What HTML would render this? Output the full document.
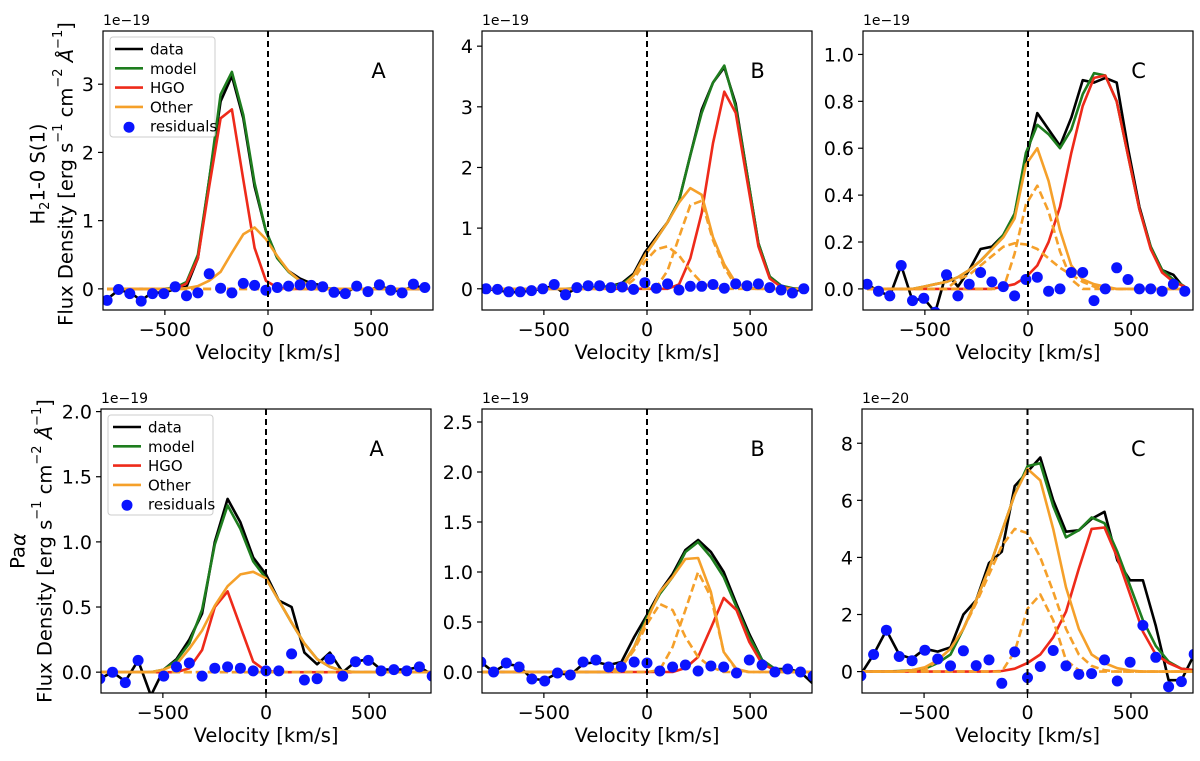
<!DOCTYPE html>
<html><head><meta charset="utf-8"><style>
html,body{margin:0;padding:0;background:#fff;}
svg{display:block;font-family:"DejaVu Sans","Liberation Sans",sans-serif;}
</style></head><body>
<svg id="fig" width="1200" height="761" viewBox="0 0 1200 761" xmlns="http://www.w3.org/2000/svg">
<rect width="1200" height="761" fill="#fff"/>
<g>
<text transform="translate(38,174) rotate(-90)" text-anchor="middle" dominant-baseline="central" font-size="19.5">H<tspan baseline-shift="sub" font-size="13">2</tspan>1-0 S(1)</text>
<text transform="translate(66,174) rotate(-90)" text-anchor="middle" dominant-baseline="central" font-size="19.5">Flux Density [erg s<tspan baseline-shift="super" font-size="13">−1</tspan> cm<tspan baseline-shift="super" font-size="13">−2</tspan> <tspan font-style="italic">Å</tspan><tspan baseline-shift="super" font-size="13">−1</tspan>]</text>
</g>
<g>
<text transform="translate(18,551) rotate(-90)" text-anchor="middle" dominant-baseline="central" font-size="19.5">Pa<tspan font-style="italic">α</tspan></text>
<text transform="translate(45,551) rotate(-90)" text-anchor="middle" dominant-baseline="central" font-size="19.5">Flux Density [erg s<tspan baseline-shift="super" font-size="13">−1</tspan> cm<tspan baseline-shift="super" font-size="13">−2</tspan> <tspan font-style="italic">Å</tspan><tspan baseline-shift="super" font-size="13">−1</tspan>]</text>
</g>
</svg>
<script>
// ---- data ----
const vTop = [-780,-725,-670,-615,-560,-505,-450,-395,-340,-285,-230,-175,-120,-65,-10,45,100,155,210,265,320,375,430,485,540,595,650,705,760];
const vBot = [-806,-744,-682,-620,-558,-496,-434,-372,-310,-248,-186,-124,-62,0,62,124,186,248,310,372,434,496,558,620,682,744,806];
const xTicks = [-500,0,500];
const xTickLabels = ["−500","0","500"];

const dA1 = [-0.15,-0.02,-0.05,-0.17,-0.05,-0.06,0.0,0.03,0.45,1.6,2.75,3.12,2.5,1.5,0.85,0.45,0.26,0.15,0.08,0.05,-0.05,-0.06,0.03,-0.03,0.04,-0.01,-0.04,0.05,0.01];
const mA1 = [0,0,0,0,0,0,0.02,0.1,0.5,1.6,2.85,3.18,2.55,1.55,0.85,0.45,0.25,0.12,0.05,0.02,0,0,0,0,0,0,0,0,0];
const hA1 = [0,0,0,0,0,0,0,0.08,0.45,1.5,2.5,2.63,1.6,0.6,0.12,0.02,0,0,0,0,0,0,0,0,0,0,0,0,0];
const oA1 = [0,0,0,0,0,0,0,0.01,0.04,0.12,0.25,0.53,0.8,0.9,0.73,0.48,0.26,0.12,0.04,0.01,0,0,0,0,0,0,0,0,0];
const c1A1 = [0,0,0,0,0,0,0,0,0,0,0,0,0,0,0,0,0,0,0,0,0,0,0,0,0,0,0,0,0];
const c2A1 = [0,0,0,0,0,0,0,0,0,0,0,0,0,0,0,0,0,0,0,0,0,0,0,0,0,0,0,0,0];
const rA1 = [-0.17,-0.01,-0.07,-0.18,-0.07,-0.07,0.03,-0.1,-0.06,0.22,0.01,-0.06,0.08,0.05,-0.02,0.02,0.04,0.06,0.05,0.03,-0.05,-0.07,0.04,-0.04,0.06,-0.02,-0.06,0.07,0.02];

const dB1 = [-0.01,-0.02,-0.06,-0.05,-0.03,0.0,0.05,-0.1,0.02,0.02,0.03,0.04,0.1,0.25,0.6,0.85,1.1,1.45,2.2,2.95,3.4,3.65,3.05,1.9,0.75,0.2,0.05,-0.05,0.0];
const mB1 = [0,0,0,0,0,0,0,0,0.01,0.02,0.03,0.04,0.08,0.22,0.55,0.82,1.1,1.45,2.2,2.9,3.4,3.68,3.0,1.9,0.75,0.2,0.05,0.01,0];
const hB1 = [0,0,0,0,0,0,0,0,0,0,0,0,0,0,0,0,0,0.07,0.5,1.25,2.4,3.25,2.9,1.8,0.7,0.17,0.03,0,0];
const oB1 = [0,0,0,0,0,0,0,0,0,0,0,0.01,0.04,0.22,0.55,0.82,1.1,1.42,1.66,1.55,0.85,0.4,0.1,0.02,0,0,0,0,0];
const c1B1 = [0,0,0,0,0,0,0,0,0,0,0,0,0,0.15,0.45,0.65,0.7,0.55,0.3,0.1,0.02,0,0,0,0,0,0,0,0];
const c2B1 = [0,0,0,0,0,0,0,0,0,0,0,0,0,0,0,0.02,0.3,0.85,1.38,1.45,0.8,0.35,0.05,0,0,0,0,0,0];
const rB1 = [0,-0.01,-0.05,-0.05,-0.03,0.0,0.07,-0.1,0.02,0.05,0.05,0.02,0.03,-0.01,0.1,0.01,0.08,-0.02,0.04,0.04,0.07,0.01,0.08,0.05,0.08,0.02,-0.02,-0.07,0];

const dC1 = [0.02,-0.01,-0.03,0.1,-0.05,-0.04,-0.1,0.07,0.01,0.08,0.17,0.18,0.23,0.32,0.55,0.75,0.68,0.61,0.73,0.89,0.88,0.9,0.88,0.6,0.35,0.18,0.08,0.06,0.0];
const mC1 = [0,0,0,0,0,0.01,0.02,0.03,0.05,0.08,0.12,0.17,0.23,0.32,0.58,0.7,0.66,0.6,0.68,0.83,0.92,0.91,0.8,0.57,0.34,0.18,0.08,0.04,0.01];
const hC1 = [0,0,0,0,0,0,0,0,0,0,0,0,0.01,0.02,0.05,0.1,0.2,0.35,0.58,0.78,0.9,0.91,0.8,0.57,0.34,0.17,0.07,0.03,0.01];
const oC1 = [0,0,0,0,0,0.01,0.02,0.03,0.05,0.08,0.12,0.17,0.22,0.3,0.53,0.6,0.46,0.25,0.1,0.04,0.02,0.01,0,0,0,0,0,0,0];
const c1C1 = [0,0,0,0,0,0,0,0,0.04,0.06,0.1,0.14,0.18,0.195,0.19,0.17,0.13,0.09,0.06,0.03,0.01,0,0,0,0,0,0,0,0];
const c2C1 = [0,0,0,0,0,0,0,0,0,0,0,0,0,0.15,0.36,0.44,0.33,0.16,0.04,0,0,0,0,0,0,0,0,0,0];
const rC1 = [0.02,-0.01,-0.03,0.1,-0.05,-0.04,-0.1,0.06,-0.03,0.02,0.07,0.03,0.01,-0.03,0.04,0.05,-0.01,0.0,0.07,0.07,-0.05,0.0,0.09,0.04,0.0,0.0,-0.01,0.02,-0.01];

const dA2 = [-0.05,0.0,-0.07,0.09,-0.18,0.02,0.1,0.25,0.45,1.0,1.33,1.15,0.88,0.75,0.55,0.5,0.15,0.06,0.15,0.0,0.08,0.1,0.02,0.02,0.02,0.04,-0.02];
const mA2 = [0,0,0,0,0,0.02,0.09,0.22,0.48,0.98,1.28,1.1,0.85,0.72,0.55,0.38,0.22,0.1,0.04,0.01,0,0,0,0,0,0,0];
const hA2 = [0,0,0,0,0,0,0,0.03,0.17,0.5,0.62,0.35,0.08,0.01,0,0,0,0,0,0,0,0,0,0,0,0,0];
const oA2 = [0,0,0,0,0,0.02,0.06,0.18,0.32,0.51,0.66,0.75,0.77,0.72,0.55,0.38,0.22,0.1,0.04,0.01,0,0,0,0,0,0,0];
const c1A2 = [0,0,0,0,0,0,0,0,0,0,0,0,0,0,0,0,0,0,0,0,0,0,0,0,0,0,0];
const c2A2 = [0,0,0,0,0,0,0,0,0,0,0,0,0,0,0,0,0,0,0,0,0,0,0,0,0,0,0];
const rA2 = [-0.05,0.0,-0.08,0.09,-0.2,-0.03,0.04,0.07,-0.03,0.03,0.04,0.03,0.01,0.01,0.01,0.14,-0.06,-0.05,0.1,-0.03,0.08,0.09,0.01,0.02,0.01,0.04,-0.03];

const dB2 = [0.1,0.0,0.08,0.06,-0.07,-0.08,-0.01,-0.03,0.08,0.1,0.07,0.1,0.35,0.57,0.8,0.98,1.22,1.32,1.2,1.0,0.68,0.38,0.12,0.03,0.03,0.0,-0.12];
const mB2 = [0,0,0,0,0,0,0,0,0,0,0,0.05,0.25,0.55,0.78,0.95,1.2,1.3,1.15,0.95,0.65,0.35,0.12,0.03,0.01,0,0];
const hB2 = [0,0,0,0,0,0,0,0,0,0,0,0,0,0,0,0,0.04,0.15,0.44,0.74,0.62,0.3,0.08,0.02,0,0,0];
const oB2 = [0,0,0,0,0,0,0,0,0,0,0,0.05,0.25,0.52,0.8,0.95,1.13,1.14,0.8,0.2,0.03,0,0,0,0,0,0];
const c1B2 = [0,0,0,0,0,0,0,0,0,0,0,0.05,0.22,0.48,0.68,0.62,0.35,0.15,0.05,0,0,0,0,0,0,0,0];
const c2B2 = [0,0,0,0,0,0,0,0,0,0,0,0,0,0,0.02,0.25,0.62,1.0,0.75,0.2,0.02,0,0,0,0,0,0];
const rB2 = [0.1,0.0,0.09,0.05,-0.07,-0.09,-0.01,-0.03,0.1,0.12,0.05,0.05,0.1,0.09,0.01,0.05,0.07,0.01,0.06,0.05,-0.01,0.12,0.07,0.0,0.03,0.0,-0.04];

const dC2 = [-0.1,0.6,1.45,0.6,0.45,0.8,0.7,0.85,2.0,2.5,3.8,4.2,6.5,7.0,7.5,6.0,4.9,4.95,5.35,5.6,3.9,3.2,3.2,1.6,-0.3,-0.3,0.6];
const mC2 = [0,0,0,0.02,0.05,0.1,0.3,0.6,1.5,2.5,3.6,4.9,6.2,7.2,7.3,5.8,4.7,4.95,5.4,5.2,4.2,3.0,1.8,0.9,0.35,0.1,0.05];
const hC2 = [0,0,0,0,0,0,0,0,0,0,0,0.02,0.1,0.3,0.6,1.2,2.1,3.6,5.0,5.05,4.0,2.7,1.4,0.6,0.3,0.1,0.05];
const oC2 = [0,0,0,0,0.05,0.15,0.4,0.8,1.5,2.5,3.6,4.9,6.2,7.1,6.7,5.0,2.95,1.5,0.6,0.3,0.12,0.04,0,0,0,0,0];
const c1C2 = [0,0,0,0,0,0.05,0.4,0.8,1.5,2.4,3.4,4.4,5.0,4.85,4.0,2.8,1.5,0.6,0.2,0.05,0,0,0,0,0,0,0];
const c2C2 = [0,0,0,0,0,0,0,0,0,0,0,0,0.7,2.2,2.7,1.8,0.4,0.05,0,0,0,0,0,0,0,0,0];
const rC2 = [-0.15,0.6,1.45,0.53,0.38,0.75,0.44,0.2,0.73,0.21,0.41,-0.41,0.69,-0.21,0.18,0.74,0.2,-0.1,-0.07,0.41,-0.33,0.33,1.62,0.5,-0.53,-0.35,0.61];

const yTicksA1 = [0,1,2,3];           const yLabA1 = ["0","1","2","3"];
const yTicksB1 = [0,1,2,3,4];         const yLabB1 = ["0","1","2","3","4"];
const yTicksC1 = [0,0.2,0.4,0.6,0.8,1.0]; const yLabC1 = ["0.0","0.2","0.4","0.6","0.8","1.0"];
const yTicksA2 = [0,0.5,1.0,1.5,2.0]; const yLabA2 = ["0.0","0.5","1.0","1.5","2.0"];
const yTicksB2 = [0,0.5,1.0,1.5,2.0,2.5]; const yLabB2 = ["0.0","0.5","1.0","1.5","2.0","2.5"];
const yTicksC2 = [0,2,4,6,8];         const yLabC2 = ["0","2","4","6","8"];

// ---- layout ----
const panels = [
 {id:"h2-a",x0:103,x1:433,y0:31,y1:310,ymin:-0.31,ymax:3.78,v:vTop,d:dA1,m:mA1,h:hA1,o:oA1,c1:c1A1,c2:c2A1,r:rA1,yt:yTicksA1,yl:yLabA1,exp:"1e−19",tag:"A",legend:true},
 {id:"h2-b",x0:482,x1:812,y0:31,y1:310,ymin:-0.35,ymax:4.25,v:vTop,d:dB1,m:mB1,h:hB1,o:oB1,c1:c1B1,c2:c2B1,r:rB1,yt:yTicksB1,yl:yLabB1,exp:"1e−19",tag:"B"},
 {id:"h2-c",x0:863,x1:1193,y0:31,y1:310,ymin:-0.09,ymax:1.1,v:vTop,d:dC1,m:mC1,h:hC1,o:oC1,c1:c1C1,c2:c2C1,r:rC1,yt:yTicksC1,yl:yLabC1,exp:"1e−19",tag:"C"},
 {id:"pa-a",x0:101,x1:431,y0:409,y1:693,ymin:-0.16,ymax:2.02,v:vBot,d:dA2,m:mA2,h:hA2,o:oA2,c1:c1A2,c2:c2A2,r:rA2,yt:yTicksA2,yl:yLabA2,exp:"1e−19",tag:"A",legend:true},
 {id:"pa-b",x0:482,x1:812,y0:409,y1:693,ymin:-0.21,ymax:2.63,v:vBot,d:dB2,m:mB2,h:hB2,o:oB2,c1:c1B2,c2:c2B2,r:rB2,yt:yTicksB2,yl:yLabB2,exp:"1e−19",tag:"B"},
 {id:"pa-c",x0:862,x1:1193,y0:409,y1:693,ymin:-0.75,ymax:9.2,v:vBot,d:dC2,m:mC2,h:hC2,o:oC2,c1:c1C2,c2:c2C2,r:rC2,yt:yTicksC2,yl:yLabC2,exp:"1e−20",tag:"C"}
];
const NS="http://www.w3.org/2000/svg";
const svg=document.getElementById('fig');
function mk(tag,attrs,parent){const e=document.createElementNS(NS,tag);for(const k in attrs)e.setAttribute(k,attrs[k]);(parent||svg).appendChild(e);return e;}
const ORANGE="#f5a02a", GREEN="#1e7d1e", RED="#ee2a1a", BLUE="#0a14ff";

panels.forEach((p,pi)=>{
  const sx=v=>p.x0+(v+800)/1600*(p.x1-p.x0);
  const sy=y=>p.y1-(y-p.ymin)/(p.ymax-p.ymin)*(p.y1-p.y0);
  const g=mk('g',{});
  
  
  const cp=mk('clipPath',{id:'cp'+pi},g);
  mk('rect',{x:p.x0,y:p.y0,width:p.x1-p.x0,height:p.y1-p.y0},cp);
  const plot=mk('g',{'clip-path':'url(#cp'+pi+')'},g);
  function line(arr,color,name,dash){
    const pts=arr.map((y,i)=>sx(p.v[i]).toFixed(1)+','+sy(y).toFixed(1)).join(' ');
    const a={points:pts,fill:'none',stroke:color,'stroke-width':2.6,'stroke-linejoin':'round'};
    if(dash)a['stroke-dasharray']=dash;
    const e=mk('polyline',a,plot);
    
    
  }
  line(p.d,'#000','data-line');
  line(p.m,GREEN,'model-line');
  line(p.h,RED,'hgo-line');
  line(p.c1,ORANGE,'other-component-1','8,4');
  line(p.c2,ORANGE,'other-component-2','8,4');
  line(p.o,ORANGE,'other-line');
  p.r.forEach((y,i)=>{
    const c=mk('circle',{cx:sx(p.v[i]).toFixed(1),cy:sy(y).toFixed(1),r:5.5,fill:BLUE},plot);
    
    
  });
  const vl=mk('line',{x1:sx(0),x2:sx(0),y1:p.y0,y2:p.y1,stroke:'#000','stroke-width':2,'stroke-dasharray':'6,4'},plot);
  
  
  const fr=mk('rect',{x:p.x0,y:p.y0,width:p.x1-p.x0,height:p.y1-p.y0,fill:'none',stroke:'#000','stroke-width':1.2},g);
  
  
  xTicks.forEach((t,i)=>{
    mk('line',{x1:sx(t),x2:sx(t),y1:p.y1,y2:p.y1+5,stroke:'#000','stroke-width':1.2},g);
    const tx=mk('text',{x:sx(t),y:p.y1+26,'text-anchor':'middle','font-size':19},g);
    tx.textContent=xTickLabels[i];
    
    
  });
  const xl=mk('text',{x:(p.x0+p.x1)/2,y:p.y1+49,'text-anchor':'middle','font-size':19.5},g);
  xl.textContent='Velocity [km/s]';
  
  
  p.yt.forEach((t,i)=>{
    mk('line',{x1:p.x0-5,x2:p.x0,y1:sy(t),y2:sy(t),stroke:'#000','stroke-width':1.2},g);
    const ty=mk('text',{x:p.x0-9,y:sy(t)+7,'text-anchor':'end','font-size':19},g);
    ty.textContent=p.yl[i];
    
    
  });
  const ex=mk('text',{x:p.x0,y:p.y0-6,'font-size':14},g);
  ex.textContent=p.exp;
  
  
  const tg=mk('text',{x:p.x0+(p.x1-p.x0)*0.835,y:p.y0+47,'text-anchor':'middle','font-size':21},g);
  tg.textContent=p.tag;
  
  
  if(p.legend){
    const lg=mk('g',{},g);
    
    
    const lx=p.x0+7, ly=p.y0+6;
    mk('rect',{x:lx,y:ly,width:105,height:100,rx:3,fill:'#fff','fill-opacity':0.85,stroke:'#ccc','stroke-width':1},lg);
    const ents=[['data','#000'],['model',GREEN],['HGO',RED],['Other',ORANGE],['residuals',BLUE]];
    ents.forEach((en,i)=>{
      const yy=ly+12+i*19.3;
      const it=mk('g',{},lg);
      
      
      if(i<4) mk('line',{x1:lx+5,x2:lx+33,y1:yy,y2:yy,stroke:en[1],'stroke-width':2.6},it);
      else mk('circle',{cx:lx+19,cy:yy+1,r:5.5,fill:BLUE},it);
      const t=mk('text',{x:lx+40,y:yy+5.5,'font-size':15},it);
      t.textContent=en[0];
    });
  }
});
</script>
</body></html>
